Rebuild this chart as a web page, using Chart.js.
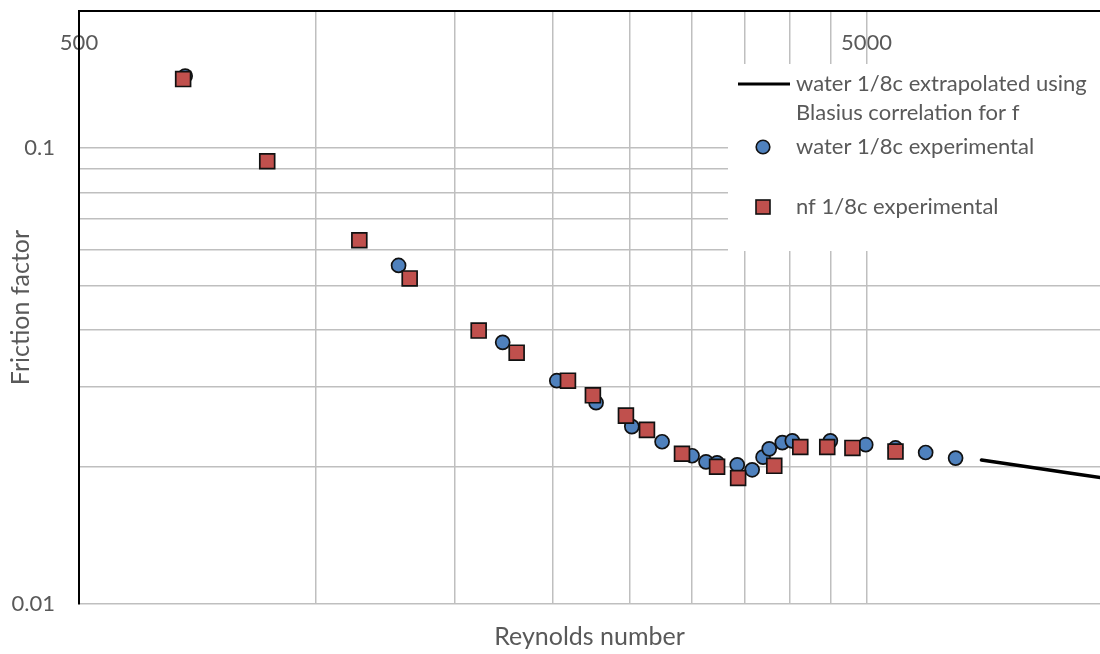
<!DOCTYPE html>
<html>
<head>
<meta charset="utf-8">
<script src="https://cdn.jsdelivr.net/npm/chart.js@4.4.0/dist/chart.umd.min.js"></script>
<style>
html, body { margin: 0; padding: 0; background: #fff; }
#wrap { width: 1100px; height: 654px; }
</style>
</head>
<body>
<div id="wrap"><canvas id="cht_friction" width="1100" height="654"></canvas></div>
<script>
"use strict";

// water 1/8c experimental
var waterRe = [682, 1273, 1726, 2022, 2268, 2518, 2751, 3003, 3128, 3231, 3427, 3580, 3696, 3763, 3910, 4026, 4500, 4990, 5444, 5946, 6490];
var waterF = [0.144, 0.0553, 0.0375, 0.0309, 0.02765, 0.0245, 0.0227, 0.02115, 0.0205, 0.0204, 0.0202, 0.0197, 0.0210, 0.0219, 0.0226, 0.0228, 0.0228, 0.02236, 0.0220, 0.0215, 0.0209];

// nf 1/8c experimental
var nfRe = [678, 867, 1135, 1315, 1609, 1798, 2089, 2247, 2475, 2632, 2916, 3231, 3436, 3819, 4121, 4459, 4800, 5444];
var nfF = [0.1418, 0.0936, 0.0628, 0.0518, 0.0398, 0.0356, 0.0309, 0.0287, 0.0259, 0.0241, 0.02136, 0.0200, 0.0189, 0.0201, 0.0221, 0.0221, 0.0220, 0.0216];

// water 1/8c extrapolated (Blasius)
var blasiusRe = [7000, 8000, 9000, 10000];
var blasiusF = [0.0207, 0.0200, 0.0194, 0.0189];

var xGrid = [500, 1000, 1500, 2000, 2500, 3000, 3500, 4000, 4500, 5000];
var xTickLabels = [500, 5000];
var yGrid = [0.01, 0.02, 0.03, 0.04, 0.05, 0.06, 0.07, 0.08, 0.09, 0.1, 0.2];
var yTickLabels = [0.01, 0.1];

var textColor = '#595959';
var gridColor = '#bfbfbf';
var fontFamily = 'Lato, "Open Sans", sans-serif';

function toPoints(xs, ys) {
	var pts = [];
	for (var i = 0; i < xs.length; i++) pts.push({x: xs[i], y: ys[i]});
	return pts;
}

// x labels sit inside the plot, under the top axis line
var topLabels = {
	id: 'topLabels',
	beforeDraw: function (chart) {
		var ctx = chart.ctx;
		var xs = chart.scales.x;
		ctx.save();
		ctx.font = '22px ' + fontFamily;
		ctx.fillStyle = textColor;
		ctx.textAlign = 'center';
		ctx.textBaseline = 'middle';
		for (var i = 0; i < xTickLabels.length; i++) {
			ctx.fillText(String(xTickLabels[i]), xs.getPixelForValue(xTickLabels[i]), 43);
		}
		ctx.restore();
	}
};

var boxLegend = {
	id: 'boxLegend',
	afterDraw: function (chart) {
		var ctx = chart.ctx;
		var ds = chart.data.datasets;
		ctx.save();
		ctx.fillStyle = '#fff';
		ctx.fillRect(728, 64, 372, 187);

		ctx.font = '22px ' + fontFamily;
		ctx.fillStyle = textColor;
		ctx.textAlign = 'left';
		ctx.textBaseline = 'middle';

		// line entry
		ctx.strokeStyle = ds[2].borderColor;
		ctx.lineWidth = 3;
		ctx.beginPath();
		ctx.moveTo(738, 84);
		ctx.lineTo(790, 84);
		ctx.stroke();
		ctx.fillText('water 1/8c extrapolated using', 796, 84);
		ctx.fillText('Blasius correlation for f', 796, 113);

		// circle entry
		ctx.fillStyle = ds[1].backgroundColor;
		ctx.strokeStyle = ds[1].borderColor;
		ctx.lineWidth = 1.6;
		ctx.beginPath();
		ctx.arc(763, 147, 6.8, 0, Math.PI * 2);
		ctx.fill();
		ctx.stroke();
		ctx.fillStyle = textColor;
		ctx.fillText('water 1/8c experimental', 796, 147);

		// square entry
		ctx.fillStyle = ds[0].backgroundColor;
		ctx.strokeStyle = ds[0].borderColor;
		ctx.fillRect(756, 200, 14, 14);
		ctx.strokeRect(756, 200, 14, 14);
		ctx.fillStyle = textColor;
		ctx.fillText('nf 1/8c experimental', 796, 207);
		ctx.restore();
	}
};

var frictionChart = new Chart(document.getElementById('cht_friction').getContext('2d'), {
	type: 'scatter',
	data: {
		datasets: [{
			label: 'nf 1/8c experimental',
			data: toPoints(nfRe, nfF),
			pointStyle: 'rect',
			pointRadius: 10.5,
			pointHoverRadius: 10.5,
			backgroundColor: '#C0504D',
			borderColor: '#111',
			borderWidth: 1.7,
			order: 1
		}, {
			label: 'water 1/8c experimental',
			data: toPoints(waterRe, waterF),
			pointStyle: 'circle',
			pointRadius: 7,
			pointHoverRadius: 7,
			backgroundColor: '#4F81BD',
			borderColor: '#111',
			borderWidth: 1.7,
			order: 2
		}, {
			label: 'water 1/8c extrapolated using Blasius correlation for f',
			data: toPoints(blasiusRe, blasiusF),
			showLine: true,
			pointRadius: 0,
			borderColor: '#000',
			borderWidth: 3.5,
			borderCapStyle: 'round',
			order: 3
		}]
	},
	options: {
		responsive: false,
		animation: false,
		devicePixelRatio: 1,
		layout: {padding: 0, autoPadding: false},
		plugins: {
			legend: {display: false},
			tooltip: {enabled: false}
		},
		scales: {
			x: {
				type: 'logarithmic',
				position: 'top',
				min: 500,
				max: 9900,
				afterBuildTicks: function (scale) {
					scale.ticks = xGrid.map(function (v) { return {value: v}; });
				},
				afterFit: function (scale) {
					scale.height = 11;
					scale.paddingLeft = 0;
					scale.paddingRight = 0;
				},
				ticks: {display: false},
				grid: {color: gridColor, lineWidth: 1.5, drawTicks: false},
				border: {color: '#000', width: 2}
			},
			xTitle: {
				type: 'logarithmic',
				position: 'bottom',
				axis: 'x',
				min: 500,
				max: 9900,
				afterFit: function (scale) {
					scale.height = 50;
					scale.paddingLeft = 0;
					scale.paddingRight = 0;
				},
				ticks: {display: false},
				grid: {display: false, drawTicks: false},
				border: {display: false},
				title: {
					display: true,
					text: 'Reynolds number',
					color: textColor,
					font: {family: fontFamily, size: 25},
					padding: {top: 0, bottom: 2}
				}
			},
			y: {
				type: 'logarithmic',
				position: 'left',
				min: 0.01,
				max: 0.2,
				afterBuildTicks: function (scale) {
					scale.ticks = yGrid.map(function (v) { return {value: v}; });
				},
				afterFit: function (scale) {
					scale.width = 79;
					scale.paddingTop = 0;
					scale.paddingBottom = 0;
				},
				ticks: {
					autoSkip: false,
					padding: 24,
					color: textColor,
					font: {family: fontFamily, size: 22},
					callback: function (v) {
						return yTickLabels.indexOf(v) != -1 ? String(v) : '';
					}
				},
				grid: {color: gridColor, lineWidth: 1.5, drawTicks: false},
				border: {color: '#000', width: 2},
				title: {
					display: true,
					text: 'Friction factor',
					color: textColor,
					font: {family: fontFamily, size: 25},
					padding: {top: 6, bottom: 0}
				}
			}
		}
	},
	plugins: [topLabels, boxLegend]
});
</script>
</body>
</html>
